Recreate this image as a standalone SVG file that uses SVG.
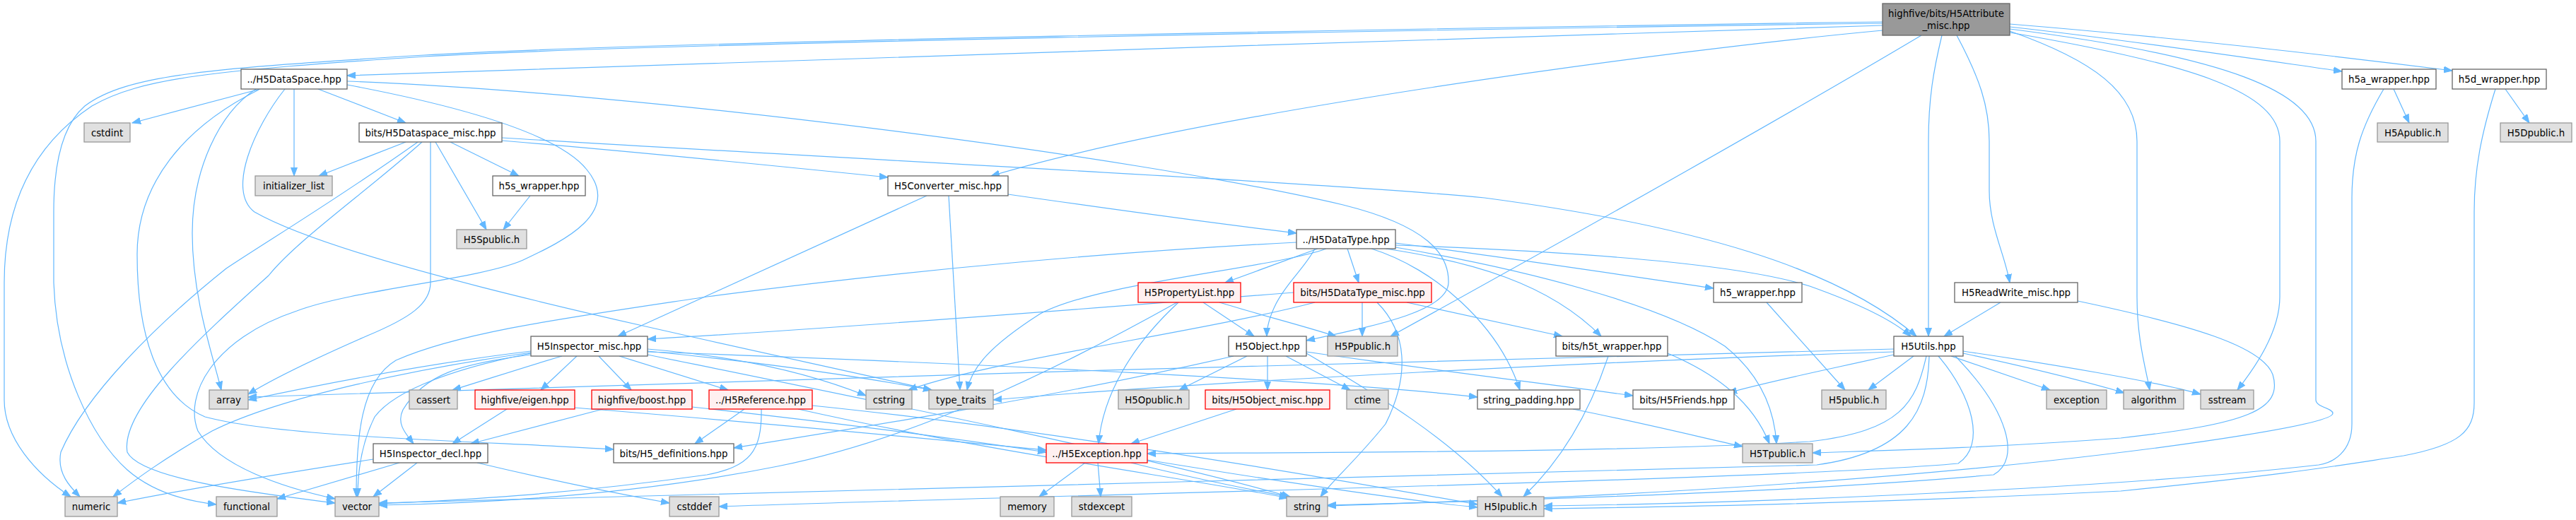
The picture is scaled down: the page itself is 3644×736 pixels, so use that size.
<svg xmlns="http://www.w3.org/2000/svg" width="3644" height="736" viewBox="0 0 3644 736">
<style>
text{font-family:"DejaVu Sans","Liberation Sans",sans-serif;font-size:13.3px;text-anchor:middle;fill:#000}
.n rect{fill:#fff;stroke:#666;stroke-width:1.3}
.g rect{fill:#e0e0e0;stroke:#999;stroke-width:1.3}
.r rect{fill:#fff0f0;stroke:#f00;stroke-width:1.3}
.root rect{fill:#999;stroke:#666;stroke-width:1.3}
#edges path{fill:none;stroke:#63b8ff;stroke-width:1.2;marker-end:url(#ah)}
</style>
<defs>
<marker id="ah" markerWidth="13" markerHeight="10" refX="12" refY="5" orient="auto" markerUnits="userSpaceOnUse"><path d="M0,0.5 L12,5 L0,9.5 z" fill="#63b8ff" stroke="#63b8ff" stroke-width="1"/></marker>
</defs>
<rect width="3644" height="736" fill="#fff"/>
<g id="edges">
<path d="M2663,36 C2000,55 900,95 491,107"/>
<path d="M2663,43 C2350,72 1700,160 1402,249"/>
<path d="M2768,50 C2800,110 2814,150 2814,200 L2814,270 C2814,320 2836,360 2843,400"/>
<path d="M2747,50 C2735,100 2728,140 2728,200 L2728,476"/>
<path d="M2843,38 C3000,55 3200,85 3313,101"/>
<path d="M2843,34 C3100,55 3350,85 3469,100"/>
<path d="M2843,44 C2960,85 3023,130 3023,200 L3023,420 C3023,480 3035,520 3041,552"/>
<path d="M2663,31 C2000,40 900,60 600,78 C300,97 180,105 120,150 C85,180 76,240 76,300 L76,400 C80,520 130,620 180,665 C220,700 270,710 306,714"/>
<path d="M2663,33 C2000,42 900,62 600,80 C300,100 200,110 130,150 C40,210 6,300 6,400 L6,566 C6,620 50,670 100,703"/>
<path d="M2843,46 C3100,90 3225,130 3225,200 L3225,420 C3225,470 3190,520 3165,552"/>
<path d="M2843,41 C3150,80 3276,130 3276,200 L3276,566 C3276,576 3300,578 3300,585 C3300,600 3100,630 2900,652 C2600,685 2200,708 1878,715"/>
<path d="M2718,50 C2550,150 2250,320 1967,476"/>
<path d="M368,126 L187,174"/>
<path d="M416,126 L416,249"/>
<path d="M450,126 L574,174"/>
<path d="M362,126 C310,160 272,240 272,330 C272,420 300,500 313,552"/>
<path d="M491,120 C650,150 790,190 830,240 C880,300 800,340 740,368 C680,395 500,410 420,440 C300,480 260,560 280,610 C310,660 400,690 474,706"/>
<path d="M403,126 C360,180 320,270 360,300 C500,380 1000,480 1318,552"/>
<path d="M491,115 C900,130 1600,220 1900,290 C2020,320 2050,360 2049,400 C2048,440 1950,460 1848,482"/>
<path d="M366,127 C260,180 194,260 194,360 C194,470 220,560 290,590 C400,620 700,625 868,636"/>
<path d="M574,201 L451,249"/>
<path d="M616,201 L688,325"/>
<path d="M637,201 L734,249"/>
<path d="M609,201 L609,400 C609,430 580,450 520,475 C440,510 380,540 351,558"/>
<path d="M597,201 C520,270 420,340 380,390 C280,480 170,580 180,640 C200,680 380,700 474,712"/>
<path d="M591,201 C480,280 380,340 320,380 C220,460 120,560 86,640 C80,670 100,690 113,703"/>
<path d="M710,195 C1200,225 1900,260 2100,280 C2400,320 2600,380 2711,476"/>
<path d="M710,199 C900,215 1100,235 1256,251"/>
<path d="M750,277 L712,325"/>
<path d="M1311,277 L874,476"/>
<path d="M1342,277 L1358,552"/>
<path d="M1426,275 C1600,300 1750,320 1834,330"/>
<path d="M1876,352 C1800,380 1550,400 1470,445 C1400,490 1375,520 1368,552"/>
<path d="M1834,343 C1600,355 1300,380 1000,420 C800,450 650,470 560,510 C510,540 504,620 504,703"/>
<path d="M1974,350 C2150,380 2350,430 2440,490 C2490,530 2510,580 2513,628"/>
<path d="M1860,352 C1845,380 1820,400 1805,430 C1795,450 1792,465 1792,476"/>
<path d="M1974,347 C2200,355 2450,370 2560,405 C2630,430 2680,455 2703,476"/>
<path d="M1940,352 C2030,380 2120,460 2150,552"/>
<path d="M1864,352 L1733,400"/>
<path d="M1974,344 C2100,360 2300,390 2424,408"/>
<path d="M1960,352 C2080,370 2190,400 2265,476"/>
<path d="M1906,352 L1922,400"/>
<path d="M1830,414 C1500,440 1100,470 916,480"/>
<path d="M1860,428 C1700,470 1400,510 1285,552"/>
<path d="M1927,428 L1927,476"/>
<path d="M1948,428 C1990,470 1995,530 1960,600 C1920,650 1885,680 1868,703"/>
<path d="M1990,428 L2210,476"/>
<path d="M1702,428 L1774,476"/>
<path d="M1667,428 C1600,490 1560,560 1554,628"/>
<path d="M1665,428 C1500,520 1300,620 1100,660 C900,700 700,712 536,715"/>
<path d="M1725,428 C1780,445 1840,460 1890,476"/>
<path d="M1764,504 L1668,552"/>
<path d="M1793,504 L1793,552"/>
<path d="M1819,504 L1910,552"/>
<path d="M1848,500 C1950,560 2050,620 2125,703"/>
<path d="M1848,498 C2000,520 2200,545 2310,560"/>
<path d="M1745,504 C1500,560 1250,600 1038,634"/>
<path d="M1749,579 L1600,628"/>
<path d="M2275,504 C2250,580 2210,650 2155,703"/>
<path d="M2359,500 C2430,530 2480,570 2503,628"/>
<path d="M2499,428 L2610,552"/>
<path d="M2707,504 L2643,552"/>
<path d="M2679,502 C2600,520 2500,540 2445,556"/>
<path d="M2760,504 L2900,552"/>
<path d="M2777,500 C2870,520 2950,540 3005,556"/>
<path d="M2777,497 C2900,515 3050,540 3113,558"/>
<path d="M2679,494 C2000,510 1000,540 351,562"/>
<path d="M2679,498 C2300,510 1700,540 1405,566"/>
<path d="M2725,504 C2710,570 2690,610 2560,625 C2300,640 1900,640 1623,642"/>
<path d="M2729,504 C2727,580 2700,640 2570,658 C2000,675 900,700 536,712"/>
<path d="M2742,504 C2790,560 2810,630 2770,656 C2500,680 1500,700 1017,717"/>
<path d="M2766,504 C2840,580 2860,650 2820,672 C2500,700 2100,708 1878,716"/>
<path d="M2830,428 L2750,476"/>
<path d="M2939,426 C3100,460 3200,490 3215,530 C3230,580 3180,600 3000,620 C2800,635 2650,638 2564,641"/>
<path d="M795,504 C740,520 680,540 640,552"/>
<path d="M816,504 L765,552"/>
<path d="M847,504 L893,552"/>
<path d="M876,504 L1030,552"/>
<path d="M751,502 C650,515 600,530 570,580 C560,600 575,615 585,628"/>
<path d="M751,499 C600,520 400,560 300,610 C230,650 190,680 160,703"/>
<path d="M751,497 C600,515 450,545 351,566"/>
<path d="M751,500 C650,520 560,550 530,590 C510,630 506,670 506,703"/>
<path d="M916,494 C1050,505 1150,530 1225,560"/>
<path d="M916,497 C1050,510 1200,530 1318,552"/>
<path d="M916,502 C1200,560 1600,640 1825,703"/>
<path d="M916,498 C1400,515 1900,540 2090,562"/>
<path d="M528,650 C400,670 250,695 166,712"/>
<path d="M565,655 L392,706"/>
<path d="M590,655 L528,703"/>
<path d="M675,655 C780,680 880,700 947,712"/>
<path d="M717,579 L640,628"/>
<path d="M813,577 C1100,600 1350,625 1480,637"/>
<path d="M853,579 L666,628"/>
<path d="M979,576 C1200,600 1380,625 1480,640"/>
<path d="M1053,579 L983,628"/>
<path d="M1077,579 C1078,640 1060,660 1000,672 C800,700 650,708 536,713"/>
<path d="M1129,579 C1400,640 1700,680 1822,705"/>
<path d="M1149,574 C1500,610 1900,680 2090,714"/>
<path d="M1535,655 L1470,703"/>
<path d="M1553,655 L1557,703"/>
<path d="M1600,655 C1700,680 1780,695 1822,703"/>
<path d="M1623,651 C1800,680 2000,710 2090,718"/>
<path d="M2225,579 C2330,600 2410,620 2465,632"/>
<path d="M3386,126 L3408,174"/>
<path d="M3372,126 C3340,180 3327,220 3327,280 L3327,600 C3327,640 3300,655 3280,658 C3000,690 2500,712 2184,716"/>
<path d="M3544,126 L3578,174"/>
<path d="M3530,126 C3510,190 3500,240 3500,300 L3500,570 C3500,610 3480,630 3400,645 C3300,660 3250,670 3000,695 C2600,715 2300,718 2184,720"/>
</g>
<g id="root" class="root"><rect x="2663" y="5" width="180" height="45"/><text x="2753" y="24">highfive/bits/H5Attribute</text><text x="2753" y="41">_misc.hpp</text></g>
<g id="H5DataSpace" class="n"><rect x="341" y="98" width="150" height="28"/><text x="416" y="117">../H5DataSpace.hpp</text></g>
<g id="h5a_wrapper" class="n"><rect x="3313" y="98" width="133" height="28"/><text x="3379.5" y="117">h5a_wrapper.hpp</text></g>
<g id="h5d_wrapper" class="n"><rect x="3469" y="98" width="133" height="28"/><text x="3535.5" y="117">h5d_wrapper.hpp</text></g>
<g id="cstdint" class="g"><rect x="119" y="174" width="65" height="27"/><text x="151.5" y="192.5">cstdint</text></g>
<g id="H5Dataspace_misc" class="n"><rect x="508" y="174" width="202" height="27"/><text x="609" y="192.5">bits/H5Dataspace_misc.hpp</text></g>
<g id="H5Apublic" class="g"><rect x="3363" y="174" width="100" height="27"/><text x="3413" y="192.5">H5Apublic.h</text></g>
<g id="H5Dpublic" class="g"><rect x="3537" y="174" width="101" height="27"/><text x="3587.5" y="192.5">H5Dpublic.h</text></g>
<g id="initializer_list" class="g"><rect x="361" y="249" width="109" height="28"/><text x="415.5" y="268">initializer_list</text></g>
<g id="h5s_wrapper" class="n"><rect x="697" y="249" width="131" height="28"/><text x="762.5" y="268">h5s_wrapper.hpp</text></g>
<g id="H5Converter_misc" class="n"><rect x="1256" y="249" width="170" height="28"/><text x="1341" y="268">H5Converter_misc.hpp</text></g>
<g id="H5Spublic" class="g"><rect x="646" y="325" width="99" height="27"/><text x="695.5" y="343.5">H5Spublic.h</text></g>
<g id="H5DataType" class="n"><rect x="1834" y="325" width="140" height="27"/><text x="1904" y="343.5">../H5DataType.hpp</text></g>
<g id="H5PropertyList" class="r"><rect x="1610" y="400" width="145" height="28"/><text x="1682.5" y="419">H5PropertyList.hpp</text></g>
<g id="H5DataType_misc" class="r"><rect x="1830" y="400" width="195" height="28"/><text x="1927.5" y="419">bits/H5DataType_misc.hpp</text></g>
<g id="h5_wrapper" class="n"><rect x="2424" y="400" width="125" height="28"/><text x="2486.5" y="419">h5_wrapper.hpp</text></g>
<g id="H5ReadWrite_misc" class="n"><rect x="2765" y="400" width="174" height="28"/><text x="2852" y="419">H5ReadWrite_misc.hpp</text></g>
<g id="H5Inspector_misc" class="n"><rect x="751" y="476" width="165" height="28"/><text x="833.5" y="495">H5Inspector_misc.hpp</text></g>
<g id="H5Object" class="n"><rect x="1738" y="476" width="110" height="28"/><text x="1793" y="495">H5Object.hpp</text></g>
<g id="H5Ppublic" class="g"><rect x="1878" y="476" width="99" height="28"/><text x="1927.5" y="495">H5Ppublic.h</text></g>
<g id="h5t_wrapper" class="n"><rect x="2201" y="476" width="158" height="28"/><text x="2280" y="495">bits/h5t_wrapper.hpp</text></g>
<g id="H5Utils" class="n"><rect x="2679" y="476" width="98" height="28"/><text x="2728" y="495">H5Utils.hpp</text></g>
<g id="array" class="g"><rect x="296" y="552" width="55" height="27"/><text x="323.5" y="570.5">array</text></g>
<g id="cassert" class="g"><rect x="579" y="552" width="68" height="27"/><text x="613" y="570.5">cassert</text></g>
<g id="eigen" class="r"><rect x="672" y="552" width="141" height="27"/><text x="742.5" y="570.5">highfive/eigen.hpp</text></g>
<g id="boost" class="r"><rect x="837" y="552" width="142" height="27"/><text x="908" y="570.5">highfive/boost.hpp</text></g>
<g id="H5Reference" class="r"><rect x="1003" y="552" width="146" height="27"/><text x="1076" y="570.5">../H5Reference.hpp</text></g>
<g id="cstring" class="g"><rect x="1225" y="552" width="65" height="27"/><text x="1257.5" y="570.5">cstring</text></g>
<g id="type_traits" class="g"><rect x="1314" y="552" width="91" height="27"/><text x="1359.5" y="570.5">type_traits</text></g>
<g id="H5Opublic" class="g"><rect x="1582" y="552" width="100" height="27"/><text x="1632" y="570.5">H5Opublic.h</text></g>
<g id="H5Object_misc" class="r"><rect x="1705" y="552" width="176" height="27"/><text x="1793" y="570.5">bits/H5Object_misc.hpp</text></g>
<g id="ctime" class="g"><rect x="1905" y="552" width="59" height="27"/><text x="1934.5" y="570.5">ctime</text></g>
<g id="string_padding" class="n"><rect x="2090" y="552" width="145" height="27"/><text x="2162.5" y="570.5">string_padding.hpp</text></g>
<g id="H5Friends" class="n"><rect x="2310" y="552" width="143" height="27"/><text x="2381.5" y="570.5">bits/H5Friends.hpp</text></g>
<g id="H5public" class="g"><rect x="2577" y="552" width="91" height="27"/><text x="2622.5" y="570.5">H5public.h</text></g>
<g id="exception" class="g"><rect x="2895" y="552" width="85" height="27"/><text x="2937.5" y="570.5">exception</text></g>
<g id="algorithm" class="g"><rect x="3004" y="552" width="85" height="27"/><text x="3046.5" y="570.5">algorithm</text></g>
<g id="sstream" class="g"><rect x="3113" y="552" width="75" height="27"/><text x="3150.5" y="570.5">sstream</text></g>
<g id="H5Inspector_decl" class="n"><rect x="528" y="628" width="162" height="27"/><text x="609" y="646.5">H5Inspector_decl.hpp</text></g>
<g id="H5_definitions" class="n"><rect x="868" y="628" width="170" height="27"/><text x="953" y="646.5">bits/H5_definitions.hpp</text></g>
<g id="H5Exception" class="r"><rect x="1480" y="628" width="143" height="27"/><text x="1551.5" y="646.5">../H5Exception.hpp</text></g>
<g id="H5Tpublic" class="g"><rect x="2465" y="628" width="99" height="27"/><text x="2514.5" y="646.5">H5Tpublic.h</text></g>
<g id="numeric" class="g"><rect x="92" y="703" width="74" height="28"/><text x="129" y="722">numeric</text></g>
<g id="functional" class="g"><rect x="306" y="703" width="86" height="28"/><text x="349" y="722">functional</text></g>
<g id="vector" class="g"><rect x="474" y="703" width="62" height="28"/><text x="505" y="722">vector</text></g>
<g id="cstddef" class="g"><rect x="947" y="703" width="70" height="28"/><text x="982" y="722">cstddef</text></g>
<g id="memory" class="g"><rect x="1415" y="703" width="76" height="28"/><text x="1453" y="722">memory</text></g>
<g id="stdexcept" class="g"><rect x="1516" y="703" width="85" height="28"/><text x="1558.5" y="722">stdexcept</text></g>
<g id="string" class="g"><rect x="1820" y="703" width="58" height="28"/><text x="1849" y="722">string</text></g>
<g id="H5Ipublic" class="g"><rect x="2090" y="703" width="94" height="28"/><text x="2137" y="722">H5Ipublic.h</text></g>
</svg>
